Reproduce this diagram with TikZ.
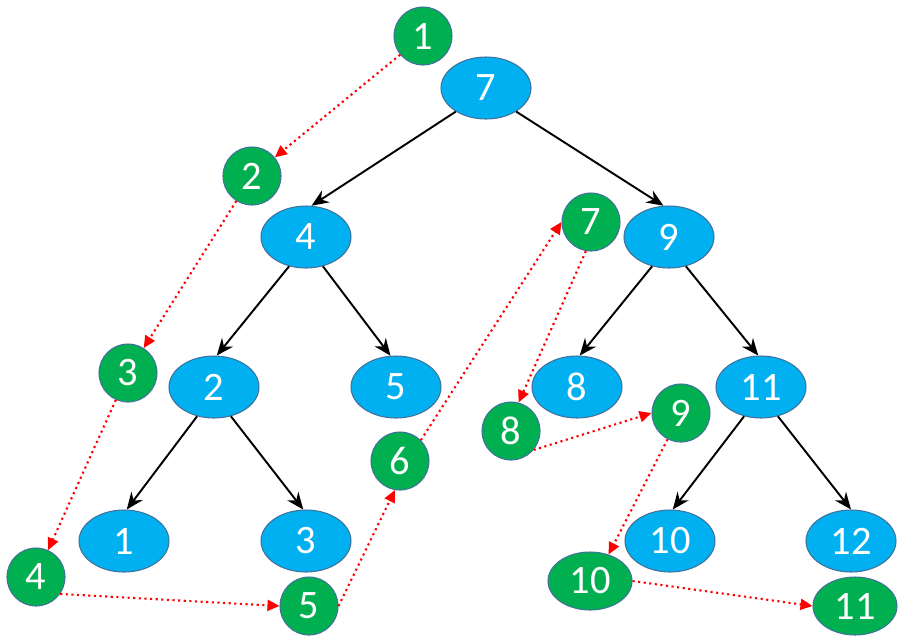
\documentclass[tikz,border=0pt]{standalone}
\usepackage{fontspec}
\setmainfont{Carlito}
\usetikzlibrary{arrows.meta, shapes.geometric}

\begin{document}
\begin{tikzpicture}[x=0.2mm, y=-0.2mm, >={Stealth[length=3.4mm, width=2.8mm]},
  arbol/.style={ellipse, draw=borde, line width=0.6pt, fill=azul, text=white,
    minimum width=90*0.2mm, minimum height=62*0.2mm, inner sep=0pt,
    font=\fontsize{23}{27}\selectfont},
  visita/.style={circle, draw=borde, line width=0.6pt, fill=verde, text=white,
    minimum size=58*0.2mm, inner sep=0pt, font=\fontsize{23}{27}\selectfont},
  visitaov/.style={visita, ellipse, minimum width=84*0.2mm, minimum height=58*0.2mm},
  rama/.style={->, line width=1.1pt},
  orden/.style={-{Triangle[length=2.4mm, width=2.2mm]}, red, dotted, line width=1.2pt}]
  \definecolor{azul}{HTML}{00B0F0}
  \definecolor{verde}{HTML}{00B050}
  \definecolor{borde}{HTML}{41719C}
  \useasboundingbox (0,0) rectangle (910,638);

  % arbol binario de busqueda
  \node[arbol] (n7) at (486,88) {7};
  \node[arbol] (n4) at (306,237) {4};
  \node[arbol] (n9) at (669,237) {9};
  \node[arbol] (n2) at (214,387) {2};
  \node[arbol] (n5) at (396,387) {5};
  \node[arbol] (n8) at (577,387) {8};
  \node[arbol] (n11) at (761,387) {11};
  \node[arbol] (n1) at (124,541) {1};
  \node[arbol] (n3) at (306,541) {3};
  \node[arbol] (n10) at (670,541) {10};
  \node[arbol] (n12) at (851,541) {12};

  \draw[rama] (n7.-142) -- (n4.80);
  \draw[rama] (n7.-38) -- (n9.100);
  \draw[rama] (n4.-120) -- (n2.85);
  \draw[rama] (n4.-60) -- (n5.100);
  \draw[rama] (n9.-120) -- (n8.85);
  \draw[rama] (n9.-60) -- (n11.95);
  \draw[rama] (n2.-120) -- (n1.85);
  \draw[rama] (n2.-60) -- (n3.95);
  \draw[rama] (n11.-120) -- (n10.85);
  \draw[rama] (n11.-60) -- (n12.90);

  % orden de visita
  \node[visita] (v1) at (423,36) {1};
  \node[visita] (v2) at (252,176) {2};
  \node[visita] (v3) at (128,373) {3};
  \node[visita] (v4) at (36,577) {4};
  \node[visita] (v5) at (309,606) {5};
  \node[visita] (v6) at (400,461) {6};
  \node[visita] (v7) at (591,222) {7};
  \node[visita] (v8) at (511,431) {8};
  \node[visita] (v9) at (681,413) {9};
  \node[visitaov] (v10) at (590,581) {10};
  \node[visitaov] (v11) at (855,606) {11};

  \draw[orden] (v1) -- (v2);
  \draw[orden] (v2) -- (v3);
  \draw[orden] (v3) -- (v4);
  \draw[orden] (v4.-35) -- (v5.west);
  \draw[orden] (v5.east) -- (v6.-100);
  \draw[orden] (v6.45) -- (v7.west);
  \draw[orden] (v7.-100) -- (v8.75);
  \draw[orden] (v8.-40) -- (v9.west);
  \draw[orden] (v9) -- (v10.55);
  \draw[orden] (v10.east) -- (v11.west);
\end{tikzpicture}
\end{document}
